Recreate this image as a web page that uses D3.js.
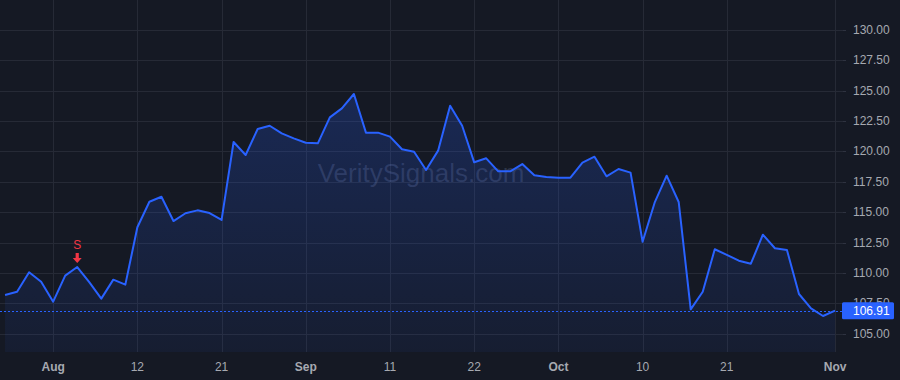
<!DOCTYPE html>
<html>
<head>
<meta charset="utf-8">
<script src="https://cdn.jsdelivr.net/npm/d3@7"></script>
<style>
  html, body { margin: 0; padding: 0; background: #151924; }
  svg { display: block; font-family: "Liberation Sans", Arial, sans-serif; }
</style>
</head>
<body>
<div id="chart"></div>
<script>
// trading days, Jul 28 -> Nov 3 (2025)
var dates = [
  "2025-07-28","2025-07-29","2025-07-30","2025-07-31","2025-08-01",
  "2025-08-04","2025-08-05","2025-08-06","2025-08-07","2025-08-08",
  "2025-08-11","2025-08-12","2025-08-13","2025-08-14","2025-08-15",
  "2025-08-18","2025-08-19","2025-08-20","2025-08-21","2025-08-22",
  "2025-08-25","2025-08-26","2025-08-27","2025-08-28","2025-08-29",
  "2025-09-02","2025-09-03","2025-09-04","2025-09-05",
  "2025-09-08","2025-09-09","2025-09-10","2025-09-11","2025-09-12",
  "2025-09-15","2025-09-16","2025-09-17","2025-09-18","2025-09-19",
  "2025-09-22","2025-09-23","2025-09-24","2025-09-25","2025-09-26",
  "2025-09-29","2025-09-30","2025-10-01","2025-10-02","2025-10-03",
  "2025-10-06","2025-10-07","2025-10-08","2025-10-09","2025-10-10",
  "2025-10-13","2025-10-14","2025-10-15","2025-10-16","2025-10-17",
  "2025-10-20","2025-10-21","2025-10-22","2025-10-23","2025-10-24",
  "2025-10-27","2025-10-28","2025-10-29","2025-10-30","2025-10-31",
  "2025-11-03"
];

// closes, one per date above
var closes = [
  108.20, 108.47, 110.07, 109.29, 107.65,
  109.79, 110.50, 109.25, 107.90, 109.46,
  109.05, 113.77, 115.87, 116.28, 114.28,
  114.92, 115.16, 114.94, 114.37, 120.78,
  119.71, 121.85, 122.12, 121.49, 121.08,
  120.72, 120.67, 122.81, 123.55,
  124.73, 121.55, 121.55, 121.22, 120.18,
  119.98, 118.48, 120.07, 123.77, 122.12,
  119.11, 119.44, 118.37, 118.37, 118.97,
  118.04, 117.90, 117.85, 117.85, 119.08,
  119.57, 117.96, 118.56, 118.26, 112.58,
  115.79, 118.01, 115.85, 107.02, 108.47,
  111.96, 111.50, 111.02, 110.77, 113.16,
  112.04, 111.90, 108.28, 107.10, 106.47,
  106.91
];

var yTicks = [105, 107.5, 110, 112.5, 115, 117.5, 120, 122.5, 125, 127.5, 130];
var xTickDates = ["2025-08-01","2025-08-12","2025-08-21","2025-09-02","2025-09-11",
                  "2025-09-22","2025-10-01","2025-10-10","2025-10-21","2025-11-03"];
var xTickLabels = ["Aug","12","21","Sep","11","22","Oct","10","21","Nov"];
var xTickBold = [true,false,false,true,false,false,true,false,false,true];

var signalDates = ["2025-08-05"];
var signalLabels = ["S"];

var lastPrice = 106.91;
var watermark = "VeritySignals.com";

var W = 900, H = 380;
var plotW = 843, plotH = 352;

var svg = d3.select("#chart").append("svg")
  .attr("width", W).attr("height", H);

svg.append("rect").attr("width", W).attr("height", H).attr("fill", "#151924");

var x = d3.scaleLinear().domain([-0.42, 69.66]).range([0, plotW]);
var y = d3.scaleLinear().domain([103.51, 132.46]).range([plotH, 0]);

var idx = function(ds) { return dates.indexOf(ds); };

// grid
var grid = svg.append("g");
grid.selectAll("line.h").data(yTicks).enter().append("line")
  .attr("x1", 0).attr("x2", plotW)
  .attr("y1", function(d) { return Math.round(y(d)) + 0.5; })
  .attr("y2", function(d) { return Math.round(y(d)) + 0.5; })
  .attr("stroke", "#262a36").attr("stroke-width", 1);
grid.selectAll("line.v").data(xTickDates).enter().append("line")
  .attr("y1", 0).attr("y2", plotH)
  .attr("x1", function(d) { return Math.round(x(idx(d))) + 0.5; })
  .attr("x2", function(d) { return Math.round(x(idx(d))) + 0.5; })
  .attr("stroke", "#262a36").attr("stroke-width", 1);

// watermark
svg.append("text")
  .attr("x", 421).attr("y", 182)
  .attr("text-anchor", "middle")
  .attr("font-size", "26px")
  .attr("fill", "rgba(140,155,200,0.22)")
  .text(watermark);

// area gradient
var defs = svg.append("defs");
var grad = defs.append("linearGradient").attr("id", "areaGrad")
  .attr("x1", 0).attr("y1", 0).attr("x2", 0).attr("y2", 1);
grad.append("stop").attr("offset", "0%").attr("stop-color", "#2962ff").attr("stop-opacity", 0.22);
grad.append("stop").attr("offset", "100%").attr("stop-color", "#2962ff").attr("stop-opacity", 0.06);

var data = closes.map(function(v, i) { return {i: i, v: v}; });

svg.append("path")
  .datum(data)
  .attr("fill", "url(#areaGrad)")
  .attr("d", d3.area()
    .x(function(d) { return x(d.i); })
    .y0(plotH)
    .y1(function(d) { return y(d.v); }));

// last price dashed line
svg.append("line")
  .attr("x1", 0).attr("x2", plotW)
  .attr("y1", Math.round(y(lastPrice)) + 0.5)
  .attr("y2", Math.round(y(lastPrice)) + 0.5)
  .attr("stroke", "#2962ff").attr("stroke-width", 1)
  .attr("stroke-dasharray", "2,2");

svg.append("path")
  .datum(data)
  .attr("fill", "none")
  .attr("stroke", "#2962ff")
  .attr("stroke-width", 2)
  .attr("stroke-linejoin", "round")
  .attr("d", d3.line()
    .x(function(d) { return x(d.i); })
    .y(function(d) { return y(d.v); }));

// signal markers
signalDates.forEach(function(ds, k) {
  var i = idx(ds), cx = x(i), cy = y(closes[i]);
  var g = svg.append("g").attr("transform", "translate(" + cx + "," + cy + ")");
  g.append("path")
    .attr("d", "M-1.6,-14 L1.6,-14 L1.6,-9 L4.5,-9 L0,-4 L-4.5,-9 L-1.6,-9 Z")
    .attr("fill", "#f23645");
  g.append("text")
    .attr("y", -18).attr("text-anchor", "middle")
    .attr("font-size", "12px").attr("fill", "#f23645")
    .text(signalLabels[k]);
});

// right axis
svg.selectAll("text.yl").data(yTicks).enter().append("text")
  .attr("class", "yl")
  .attr("x", 853)
  .attr("y", function(d) { return y(d) + 4; })
  .attr("font-size", "12px")
  .attr("fill", "#a6a9b1")
  .text(function(d) { return d.toFixed(2); });

svg.selectAll("line.yt").data(yTicks).enter().append("line")
  .attr("x1", plotW).attr("x2", plotW + 3)
  .attr("y1", function(d) { return Math.round(y(d)) + 0.5; })
  .attr("y2", function(d) { return Math.round(y(d)) + 0.5; })
  .attr("stroke", "#2e3240");

// last price label (drawn over the 107.50 tick, as in the original)
var ly = y(lastPrice);
svg.append("rect")
  .attr("x", plotW - 1).attr("y", ly - 8.5)
  .attr("width", 52).attr("height", 17).attr("rx", 1.5)
  .attr("fill", "#2962ff");
svg.append("text")
  .attr("x", 853).attr("y", ly + 4.5)
  .attr("font-size", "12px").attr("fill", "#ffffff")
  .text(lastPrice.toFixed(2));

// bottom axis
svg.selectAll("text.xl").data(xTickDates).enter().append("text")
  .attr("class", "xl")
  .attr("x", function(d) { return x(idx(d)); })
  .attr("y", 371)
  .attr("text-anchor", "middle")
  .attr("font-size", "12px")
  .attr("font-weight", function(d, k) { return xTickBold[k] ? "bold" : "normal"; })
  .attr("fill", "#a6a9b1")
  .text(function(d, k) { return xTickLabels[k]; });
</script>
</body>
</html>
